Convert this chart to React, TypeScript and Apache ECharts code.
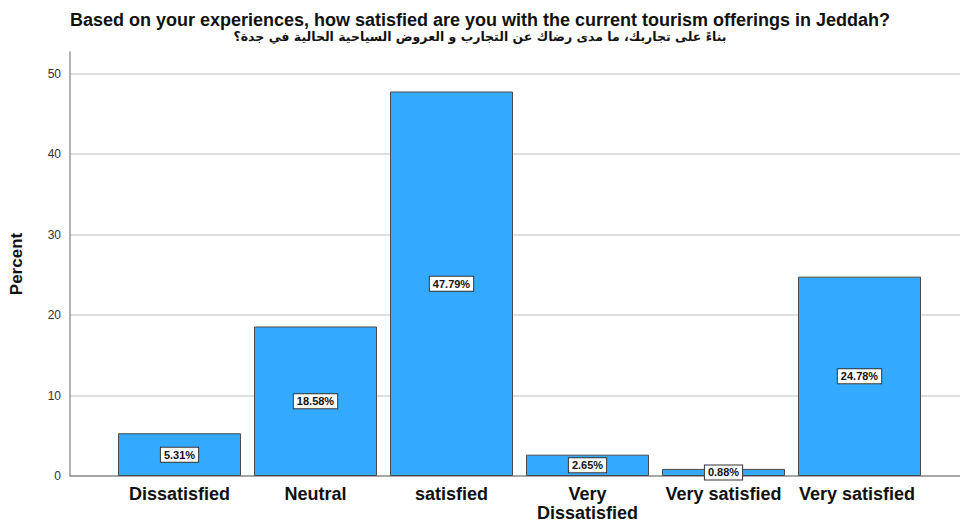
import React, { useEffect, useRef } from "react";
import * as echarts from "echarts";

const categories = ["Dissatisfied", "Neutral", "satisfied", "Very\nDissatisfied", "Very satisfied", "Very satisfied "];
const percents = [5.31, 18.58, 47.79, 2.65, 0.88, 24.78];
const yTicks = [0, 10, 20, 30, 40, 50];

const FONT = "'Liberation Sans', Arial, 'DejaVu Sans', sans-serif";

export default function App() {
  const ref = useRef<HTMLDivElement>(null);
  useEffect(() => {
    const chart = echarts.init(ref.current!, null, { renderer: "svg" });
    const yMax = 52.7;
    chart.setOption({
      animation: false,
      backgroundColor: "#fff",
      title: {
        text: "Based on your experiences, how satisfied are you with the current tourism offerings in Jeddah?",
        subtext: "بناءً على تجاربك، ما مدى رضاك عن التجارب و العروض السياحية الحالية في جدة؟",
        left: "center",
        top: 6,
        itemGap: 1,
        textStyle: { fontFamily: FONT, fontSize: 18, fontWeight: "bold", color: "#111" },
        subtextStyle: { fontFamily: "'DejaVu Sans', 'Noto Sans', sans-serif", fontSize: 12.5, fontWeight: "bold", color: "#111" },
      },
      grid: [
        { left: 66, right: 0, top: 52, bottom: 46, containLabel: false },
        { left: 111.5, right: 32.5, top: 52, bottom: 46, containLabel: false },
      ],
      xAxis: [
        {
          gridIndex: 0,
          type: "category",
          data: [""],
          axisLine: { show: true, lineStyle: { color: "#888", width: 1.5 } },
          axisTick: { show: false },
          axisLabel: { show: false },
          splitLine: { show: false },
        },
        {
          gridIndex: 1,
          type: "category",
          data: categories,
          axisLine: { show: false },
          axisTick: { show: false },
          axisLabel: {
            interval: 0,
            margin: 8,
            fontFamily: FONT,
            fontSize: 18,
            fontWeight: "bold",
            color: "#111",
            lineHeight: 19,
          },
        },
      ],
      yAxis: [
        {
          gridIndex: 0,
          type: "value",
          min: 0,
          max: yMax,
          interval: 10,
          name: "Percent",
          nameLocation: "middle",
          nameRotate: 90,
          nameGap: 45,
          nameTextStyle: { fontFamily: FONT, fontSize: 17, fontWeight: "bold", color: "#111" },
          axisLine: { show: true, lineStyle: { color: "#999", width: 1.5 } },
          axisTick: { show: false },
          axisLabel: {
            margin: 9,
            fontFamily: FONT,
            fontSize: 12,
            color: "#333",
            formatter: (v: number) => (yTicks.includes(v) ? String(v) : ""),
          },
          splitLine: { show: true, showMinLine: false, showMaxLine: false, lineStyle: { color: "#d4d4d4", width: 1.5 } },
        },
        {
          gridIndex: 1,
          type: "value",
          min: 0,
          max: yMax,
          show: false,
        },
      ],
      series: [
        {
          type: "bar",
          xAxisIndex: 1,
          yAxisIndex: 1,
          data: percents,
          barWidth: 123,
          itemStyle: { color: "#33aaff", borderColor: "#4a4a4a", borderWidth: 1 },
          label: {
            show: true,
            position: "inside",
            formatter: (p: any) => Number(p.value).toFixed(2) + "%",
            fontFamily: FONT,
            fontSize: 11,
            fontWeight: "bold",
            color: "#111",
            backgroundColor: "#fff",
            borderColor: "#333",
            borderWidth: 1,
            padding: [2, 3, 1, 3],
          },
        },
      ],
    });
    return () => chart.dispose();
  }, []);
  return <div ref={ref} style={{ width: 960, height: 522, position: "fixed", left: 0, top: 0 }} />;
}
